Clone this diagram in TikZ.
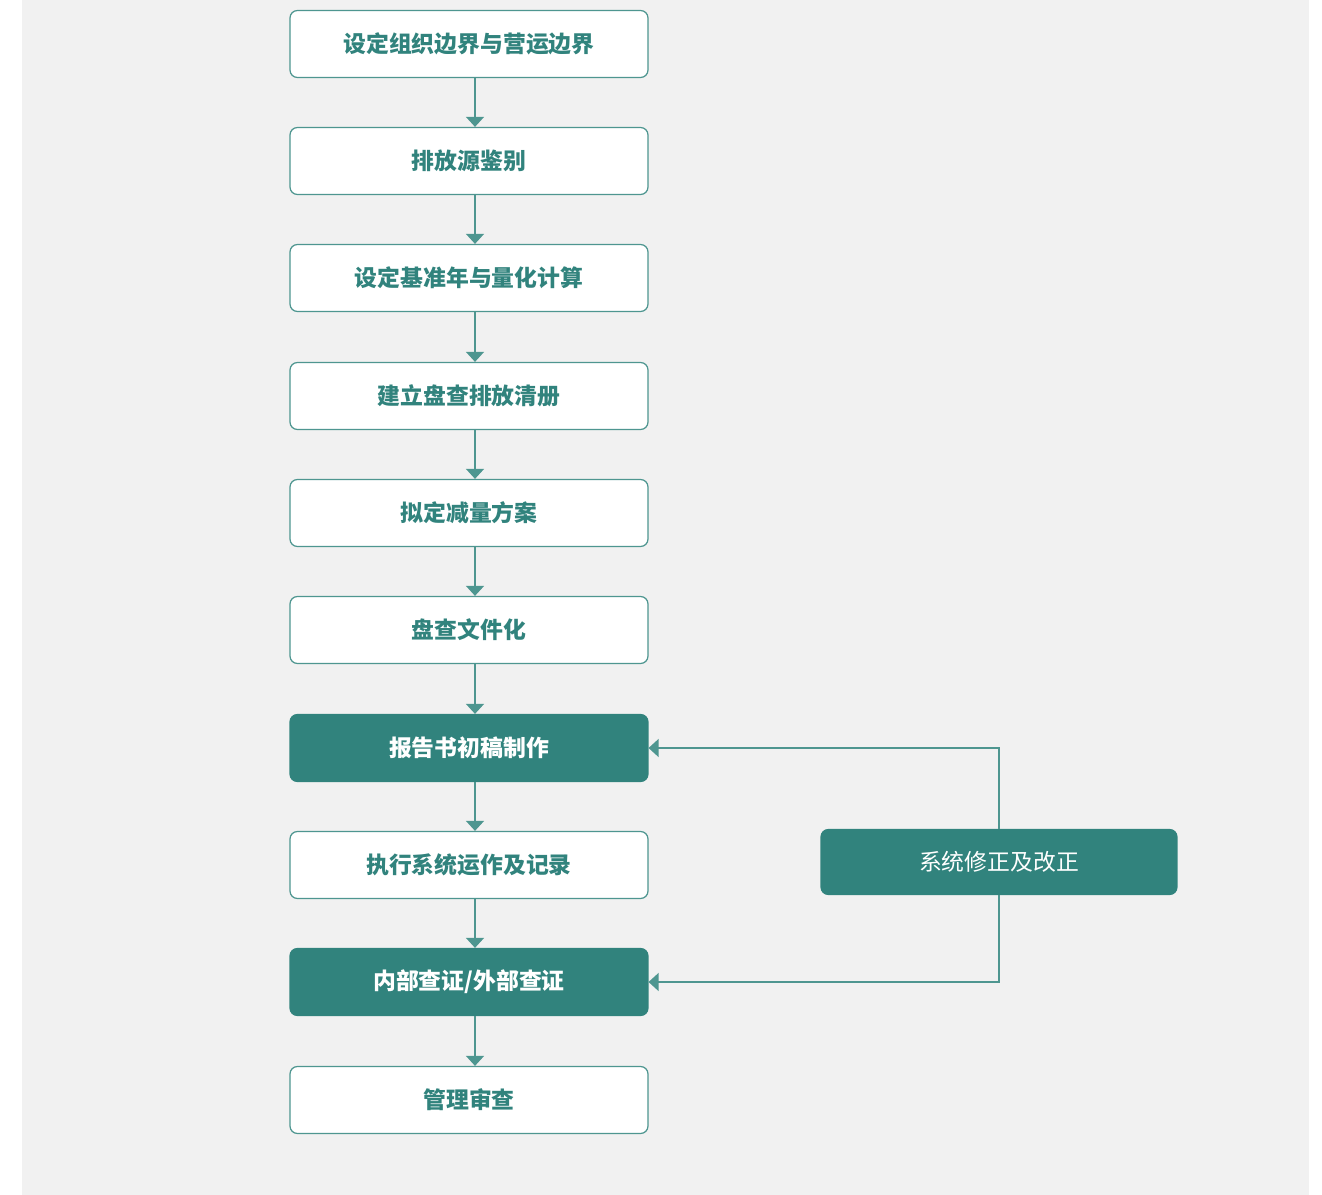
\documentclass[tikz,border=0pt]{standalone}
\usepackage{fontspec}
\usepackage{xcolor}
\newfontfamily\cjk{Noto Sans CJK SC}
\definecolor{teal}{HTML}{31837D}
\definecolor{bggray}{HTML}{F1F1F1}
\definecolor{lineteal}{HTML}{4E9690}
\usetikzlibrary{arrows.meta, positioning, calc}

\begin{document}
\begin{tikzpicture}[
  x=0.02cm, y=-0.02cm,
  box/.style={draw=lineteal, line width=0.7pt, rounded corners=6\pgflinewidth, minimum width=7.16cm, minimum height=1.34cm, font=\cjk\fontsize{13}{15}\selectfont\bfseries, align=center, inner sep=0pt},
  stepbox/.style={box, fill=white, text=teal},
  keybox/.style={box, fill=teal, draw=teal, text=white},
  fixbox/.style={keybox, font=\cjk\fontsize{13}{15}\selectfont},
  arr/.style={-{Triangle[width=0.36cm, length=0.2cm]}, lineteal, line width=0.7pt},
]

% background
\fill[white] (0,0) rectangle (1322,1195);
\fill[bggray] (22,0) rectangle (1309,1195);
\useasboundingbox (0,0) rectangle (1322,1195);

% main steps
\node[stepbox] (s1) at (469, 44) {设定组织边界与营运边界};
\node[stepbox] (s2) at (469, 161) {排放源鉴别};
\node[stepbox] (s3) at (469, 278) {设定基准年与量化计算};
\node[stepbox] (s4) at (469, 396) {建立盘查排放清册};
\node[stepbox] (s5) at (469, 513) {拟定减量方案};
\node[stepbox] (s6) at (469, 630) {盘查文件化};
\node[keybox] (s7) at (469, 748) {报告书初稿制作};
\node[stepbox] (s8) at (469, 865) {执行系统运作及记录};
\node[keybox] (s9) at (469, 982) {内部查证/外部查证};
\node[stepbox] (s10) at (469, 1100) {管理审查};

% feedback box
\node[fixbox, minimum width=7.12cm, minimum height=1.3cm] (fix) at (999, 862) {系统修正及改正};

\foreach \a/\b in {s1/s2, s2/s3, s3/s4, s4/s5, s5/s6, s6/s7, s7/s8, s8/s9, s9/s10}
  \draw[arr] ([xshift=0.12cm]\a.south) -- ([xshift=0.12cm]\b.north);

\draw[arr] (fix.north) |- (s7.east);
\draw[arr] (fix.south) |- (s9.east);

\end{tikzpicture}
\end{document}
